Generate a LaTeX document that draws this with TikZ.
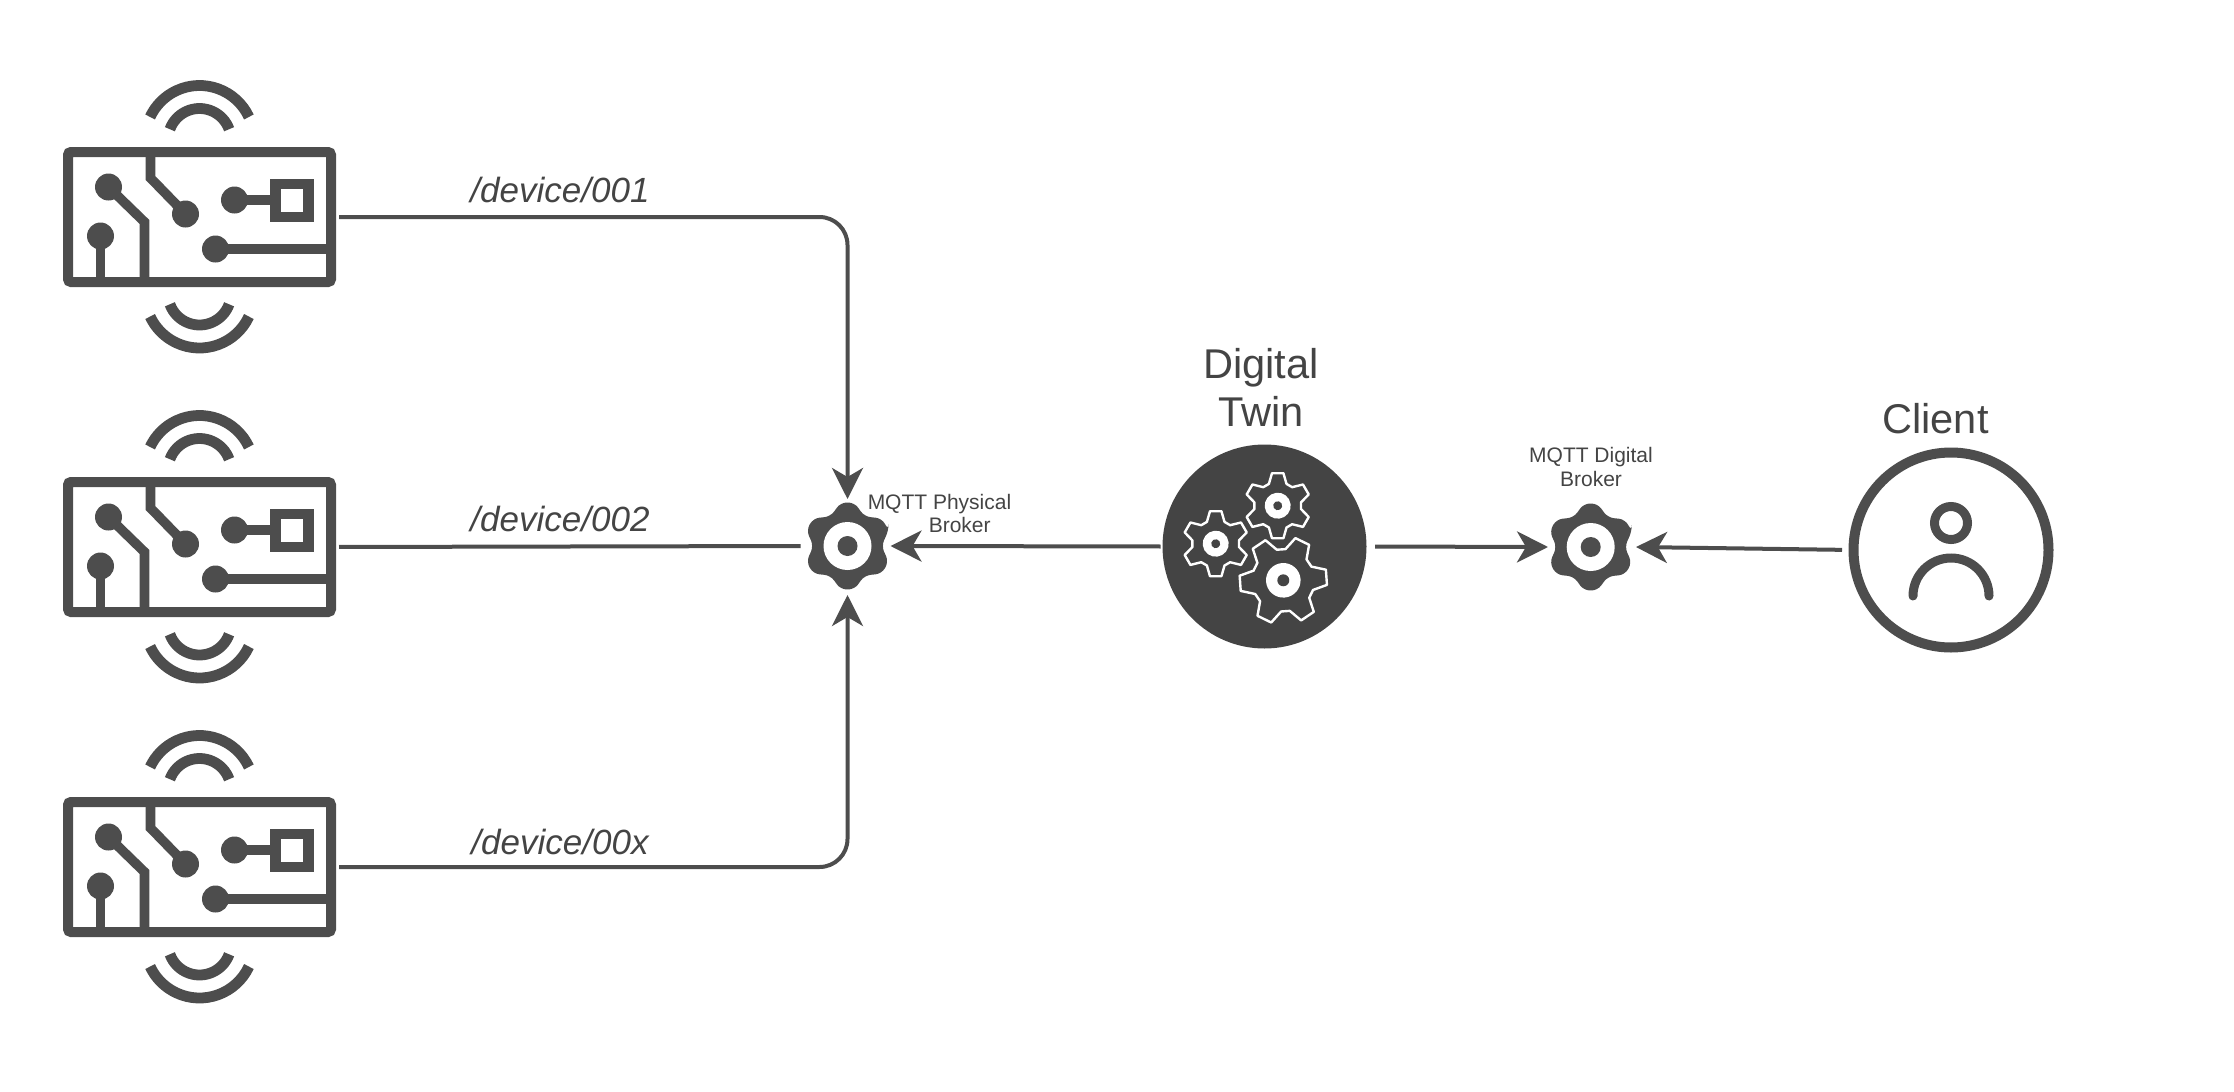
\documentclass[tikz,border=0pt]{standalone}
\usepackage{fontspec}
\setmainfont{Liberation Sans}
\usetikzlibrary{arrows.meta, positioning, calc}
\definecolor{ink}{RGB}{77, 77, 77}
\definecolor{inkdark}{RGB}{68, 68, 68}
\tikzset{
  trace/.style={draw=ink, line width=4.8pt},
  wave/.style={draw=ink, line width=5.4pt},
  circuit/.pic={
    \draw[trace] (-49,65) -- (-49,39) -- (-14,3);
    \draw[trace] (-91,30) -- (-55,-5) -- (-55,-65);
    \draw[trace] (-99,-19) -- (-99,-65);
    \draw[trace] (35,17) -- (76,17);
    \draw[trace] (16,-32) -- (131,-32);
    \draw[wave] (76,0) rectangle (109,33);
    \foreach \px/\py in {-14/3, -91/30, -99/-19, 35/17, 16/-32}
      \fill[ink] (\px,\py) circle (13.5);
    \draw[wave] ([shift={(25:54.5)}]0,77) arc[start angle=25, end angle=155, radius=54.5];
    \draw[wave] ([shift={(20:31.5)}]0,77) arc[start angle=20, end angle=160, radius=31.5];
    \draw[wave] ([shift={(-25:54.5)}]0,-76.5) arc[start angle=-25, end angle=-155, radius=54.5];
    \draw[wave] ([shift={(-20:31.5)}]0,-76.5) arc[start angle=-20, end angle=-160, radius=31.5];
  },
  knob/.pic={
    \fill[ink, rounded corners=3pt] (21:44)
      \foreach \a in {30,90,...,330} {
        -- ({\a-9}:44) -- ({\a+9}:44) -- ({\a+30}:34)
      } -- cycle;
    \fill[white] (0,0) circle (24);
    \fill[ink] (0,0) circle (10);
  },
  cog/.pic={
    \draw[white, line width=1.2pt, line join=round] (-22:23.5)
      \foreach \a in {0,60,...,300} {
        -- ({\a-22}:23.5) -- ({\a-10}:33) -- ({\a+10}:33) -- ({\a+22}:23.5)
      } -- cycle;
    \fill[white] (0,0) circle (13);
    \fill[inkdark] (0,0) circle (4.5);
  },
}
\begin{document}
\begin{tikzpicture}[
    x=0.5pt, y=0.5pt,
    devicebox/.style={draw=ink, line width=5pt, rounded corners=1.5pt, minimum width=131.5pt, minimum height=65pt, inner sep=0pt, outer sep=0pt},
    broker/.style={circle, minimum size=43pt, inner sep=0pt, outer sep=0pt},
    twinbox/.style={circle, fill=inkdark, minimum size=102pt, inner sep=0pt, outer sep=0pt},
    clientbox/.style={circle, draw=ink, line width=5pt, minimum size=97.5pt, inner sep=0pt, outer sep=0pt},
    topic/.style={font=\fontsize{17.5}{20}\selectfont\itshape, text=inkdark},
    title/.style={font=\fontsize{20.8}{24}\selectfont, text=inkdark, align=center},
    caption/.style={font=\fontsize{10.5}{11.6}\selectfont, text=inkdark, align=left},
    arr/.style={-{Stealth[length=15.5pt, width=15.5pt, inset=4.5pt]}, color=ink, line width=2pt},
    lin/.style={color=ink, line width=2pt},
  ]
    \useasboundingbox (0,0) rectangle (2234,-1092);

    \node[devicebox] (dev1) at (199.5,-217) {};
    \node[devicebox] (dev2) at (199.5,-547) {};
    \node[devicebox] (dev3) at (199.5,-867) {};
    \pic at (dev1) {circuit};
    \pic at (dev2) {circuit};
    \pic at (dev3) {circuit};

    \node[broker] (physical) at (847.5,-546) {};
    \node[broker, minimum size=44pt] (digital) at (1592,-547) {};
    \pic at (physical) {knob};
    \pic at (1590.7,-547) {knob};

    \node[twinbox] (twin) at (1264.5,-546.5) {};
    \pic[rotate=30] at (1215.7,-543.7) {cog};
    \pic[rotate=30] at (1277.7,-505.7) {cog};
    \pic[rotate=4, scale=1.33] at (1283.3,-580.3) {cog};

    \node[clientbox] (client) at (1951,-550) {};
    \draw[ink, line width=4.5pt] (1951,-523) circle (16.5);
    \draw[ink, line width=4.5pt, line cap=round] (1913,-596) arc[start angle=180, end angle=0, radius=38];

    \node[topic] (t1) at (560,-190) {/device/001};
    \node[topic] (t2) at (560,-519) {/device/002};
    \node[topic] (t3) at (560,-842) {/device/00x};

    \node[caption] (capa) at (939.5,-513.5) {MQTT Physical\\\hspace*{30.5pt}Broker};
    \node[caption, align=center] (capb) at (1591,-467) {MQTT Digital\\Broker};
    \node[title] (ttwin) at (1261,-387) {Digital\\Twin};
    \node[title] (tclient) at (1935.5,-419) {Client};

    \draw[arr, rounded corners=14pt, shorten <=4pt, shorten >=2pt] (dev1.east) -| (physical.north);
    \draw[lin, shorten <=4pt, shorten >=2pt] (dev2.east) -- (physical.west);
    \draw[arr, rounded corners=14pt, shorten <=4pt, shorten >=3pt] (dev3.east) -| (physical.south);
    \draw[arr, shorten <=1pt] (twin.west) -- (physical.east);
    \draw[arr, shorten <=4.25pt] (twin.east) -- (digital.west);
    \draw[arr, shorten <=5.75pt] (client.west) -- (digital.east);
\end{tikzpicture}
\end{document}
